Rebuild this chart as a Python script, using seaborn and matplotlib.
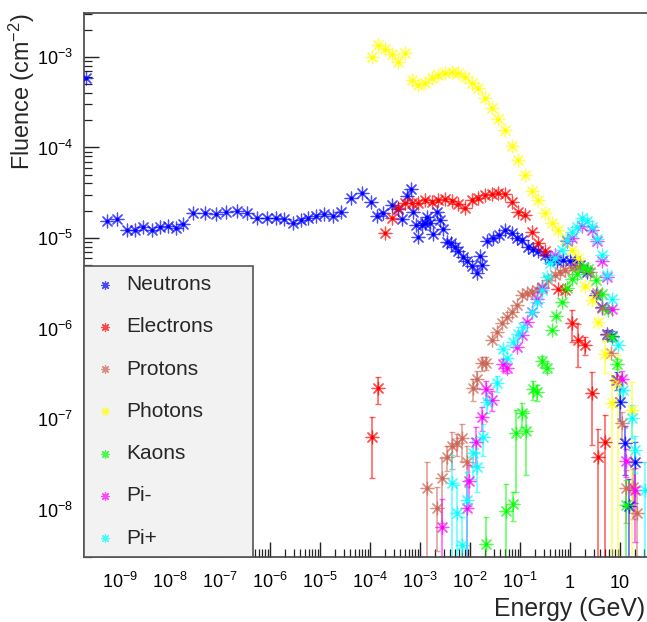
import numpy as np
import pandas as pd
import matplotlib
matplotlib.use("Agg")
import matplotlib.pyplot as plt
import matplotlib.ticker as mticker
import seaborn as sns

# ---------------------------------------------------------------- data
# energy in GeV, fluence in cm^-2, error = statistical uncertainty on fluence

neutron_energy = [
    2.09e-10, 5.57e-10, 8.83e-10, 1.36e-9, 1.97e-9, 2.92e-9, 4.37e-9, 6.31e-9, 9.12e-9, 1.30e-8,
    1.85e-8, 2.92e-8, 5.01e-8, 8.20e-8, 1.34e-7, 2.19e-7, 3.52e-7, 5.50e-7, 8.59e-7, 1.32e-6,
    1.88e-6, 2.84e-6, 4.11e-6, 5.75e-6, 8.43e-6, 1.20e-5, 1.79e-5, 2.59e-5, 4.11e-5, 6.82e-5,
    1.03e-4, 1.36e-4, 1.85e-4, 2.72e-4, 3.68e-4, 4.31e-4, 5.42e-4, 6.61e-4, 7.35e-4, 8.32e-4,
    9.25e-4, 1.08e-3, 1.26e-3, 1.40e-3, 1.58e-3, 1.85e-3, 2.22e-3, 2.51e-3, 2.92e-3, 3.42e-3,
    4.11e-3, 5.01e-3, 5.83e-3, 7.14e-3, 8.59e-3, 1.08e-2, 1.36e-2, 1.58e-2, 1.71e-2, 2.16e-2,
    2.92e-2, 3.85e-2, 5.01e-2, 6.82e-2, 8.59e-2, 0.108, 0.147, 0.185, 0.232, 0.316,
    0.398, 0.542, 0.735, 1.0, 1.26, 1.58, 2.16, 3.31, 4.31, 5.42,
    6.82, 8.59, 10.0, 12.6, 15.3, 20.0,
]
neutron_fluence = [
    5.9e-4, 1.55e-5, 1.61e-5, 1.21e-5, 1.23e-5, 1.31e-5, 1.21e-5, 1.31e-5, 1.36e-5, 1.29e-5,
    1.43e-5, 1.87e-5, 1.87e-5, 1.84e-5, 1.92e-5, 1.97e-5, 1.90e-5, 1.65e-5, 1.65e-5, 1.65e-5,
    1.61e-5, 1.48e-5, 1.58e-5, 1.65e-5, 1.75e-5, 1.83e-5, 1.75e-5, 1.95e-5, 2.75e-5, 3.12e-5,
    2.52e-5, 1.75e-5, 1.90e-5, 2.32e-5, 2.08e-5, 1.61e-5, 2.91e-5, 3.45e-5, 1.95e-5, 1.39e-5,
    1.03e-5, 1.39e-5, 1.45e-5, 1.72e-5, 1.48e-5, 1.11e-5, 1.95e-5, 1.58e-5, 1.25e-5, 9.1e-6,
    8.8e-6, 7.9e-6, 7.1e-6, 6.2e-6, 5.5e-6, 4.9e-6, 4.07e-6, 6.3e-6, 5.0e-6, 9.3e-6,
    1.01e-5, 1.08e-5, 1.23e-5, 1.13e-5, 9.9e-6, 9.5e-6, 8.0e-6, 7.5e-6, 7.1e-6, 6.5e-6,
    5.8e-6, 5.5e-6, 5.7e-6, 5.6e-6, 5.5e-6, 5.0e-6, 4.2e-6, 2.34e-6, 1.74e-6, 8.6e-7,
    8.3e-7, 2.7e-7, 1.55e-7, 5.4e-8, 1.09e-8, 3.37e-8,
]
neutron_error = [
    0, 0, 0, 0, 0, 0, 0, 0, 0, 0,
    0, 0, 0, 0, 0, 0, 0, 0, 0, 0,
    0, 0, 0, 0, 0, 0, 0, 0, 0, 0,
    0, 0, 0, 0, 0, 0, 0, 0, 0, 0,
    0, 0, 0, 0, 0, 0, 0, 0, 0, 0,
    0, 0, 0, 0, 0, 0, 0, 0, 0, 0,
    0, 0, 0, 0, 0, 0, 0, 0, 0, 0,
    0, 0, 0, 0, 0, 0, 0, 0, 0, 1.0e-7,
    1.0e-7, 6e-8, 6e-8, 3e-8, 1.1e-8, 2.2e-8,
]

electron_energy = [
    1.08e-4, 1.47e-4, 2.0e-4, 2.72e-4, 3.68e-4, 5.01e-4, 6.82e-4, 9.25e-4, 1.26e-3, 1.71e-3,
    2.32e-3, 3.16e-3, 4.31e-3, 5.83e-3, 7.94e-3, 1.08e-2, 1.47e-2, 2.0e-2, 2.72e-2, 3.68e-2,
    5.01e-2, 6.82e-2, 9.25e-2, 0.126, 0.171, 0.232, 0.316, 0.583, 0.794, 1.08,
    1.47, 2.0, 2.72, 3.68, 5.01,
]
electron_fluence = [
    6.4e-8, 2.18e-7, 1.13e-5, 1.65e-5, 2.13e-5, 2.42e-5, 2.42e-5, 2.45e-5, 2.63e-5, 2.52e-5,
    2.63e-5, 2.67e-5, 2.58e-5, 2.38e-5, 2.13e-5, 2.63e-5, 2.75e-5, 2.99e-5, 3.07e-5, 3.17e-5,
    3.07e-5, 2.52e-5, 1.95e-5, 1.79e-5, 1.17e-5, 8.9e-6, 7.1e-6, 2.71e-6, 2.68e-6, 1.16e-6,
    7.5e-7, 6.6e-7, 1.92e-7, 3.8e-8, 5.5e-8,
]
electron_error = [
    4.2e-8, 7e-8, 0, 0, 0, 0, 0, 0, 0, 0,
    0, 0, 0, 0, 0, 0, 0, 0, 0, 0,
    0, 0, 0, 0, 0, 0, 0, 0, 0, 4.5e-7,
    3.7e-7, 1.5e-7, 1.4e-7, 3.9e-8, 5.6e-8,
]

proton_energy = [
    1.40e-3, 2.16e-3, 2.72e-3, 3.42e-3, 4.31e-3, 5.57e-3, 6.82e-3, 8.83e-3, 1.13e-2, 1.36e-2,
    1.71e-2, 2.09e-2, 2.72e-2, 3.42e-2, 4.31e-2, 5.42e-2, 6.82e-2, 8.59e-2, 0.108, 0.136,
    0.171, 0.216, 0.272, 0.368, 0.501, 0.631, 0.794, 1.08, 1.47, 1.85,
    2.51, 3.42, 4.31, 5.42, 6.52, 8.32, 10.8, 13.2, 17.9, 21.6,
]
proton_fluence = [
    1.71e-8, 1.05e-8, 2.21e-8, 3.83e-8, 5.03e-8, 5.4e-8, 6.1e-8, 3.37e-8, 2.18e-7, 2.75e-7,
    4.13e-7, 4.19e-7, 7.46e-7, 9.2e-7, 1.14e-6, 1.35e-6, 1.53e-6, 1.82e-6, 2.34e-6, 2.45e-6,
    2.55e-6, 2.66e-6, 2.90e-6, 3.44e-6, 3.90e-6, 4.25e-6, 4.43e-6, 4.62e-6, 4.82e-6, 4.62e-6,
    4.25e-6, 2.45e-6, 1.67e-6, 8.5e-7, 5.3e-7, 2.7e-7, 8.95e-8, 1.71e-8, 1.79e-8, 9.1e-9,
]
proton_error = [
    1.6e-8, 0.7e-8, 1.5e-8, 1.2e-8, 2.2e-8, 1.5e-8, 2.7e-8, 1.6e-8, 6e-8, 6e-8,
    7e-8, 7e-8, 0, 0, 0, 0, 0, 0, 0, 0,
    0, 0, 0, 0, 0, 0, 0, 0, 0, 0,
    0, 0, 0, 0, 0, 0, 3e-8, 1e-8, 1e-8, 6e-9,
]

photon_energy = [
    1.08e-4, 1.47e-4, 2.0e-4, 2.72e-4, 3.68e-4, 5.01e-4, 6.82e-4, 9.25e-4, 1.26e-3, 1.71e-3,
    2.32e-3, 3.16e-3, 4.31e-3, 5.83e-3, 7.94e-3, 1.08e-2, 1.47e-2, 2.0e-2, 2.72e-2, 3.68e-2,
    5.01e-2, 6.82e-2, 9.25e-2, 0.126, 0.171, 0.232, 0.316, 0.43, 0.583, 0.794,
    1.08, 1.47, 2.0, 2.72, 3.68, 5.01, 6.82, 9.25, 17.1,
]
photon_fluence = [
    9.9e-4, 1.36e-3, 1.22e-3, 1.08e-3, 8.9e-4, 1.10e-3, 5.5e-4, 4.9e-4, 5.2e-4, 5.8e-4,
    6.3e-4, 6.7e-4, 6.9e-4, 6.7e-4, 6.05e-4, 5.2e-4, 4.5e-4, 3.5e-4, 2.71e-4, 2.05e-4,
    1.56e-4, 1.04e-4, 7.2e-5, 4.97e-5, 3.33e-5, 2.63e-5, 1.90e-5, 1.48e-5, 1.23e-5, 9.5e-6,
    7.4e-6, 5.97e-6, 2.95e-6, 2.07e-6, 1.19e-6, 5.2e-7, 1.5e-7, 2.5e-7, 1.26e-7,
]
photon_error = [
    0, 0, 0, 0, 0, 0, 0, 0, 0, 0,
    0, 0, 0, 0, 0, 0, 0, 0, 0, 0,
    0, 0, 0, 0, 0, 0, 0, 0, 0, 0,
    0, 0, 0, 0, 0, 2e-7, 1.6e-7, 2.6e-7, 1.3e-7,
]

kaon_energy = [
    2.09e-2, 5.25e-2, 7.14e-2, 8.32e-2, 0.108, 0.132, 0.179, 0.216, 0.272, 0.342,
    0.431, 0.525, 0.682, 0.859, 1.08, 1.36, 1.85, 2.32, 3.31, 4.31,
    5.83, 6.82, 8.59, 13.2,
]
kaon_fluence = [
    4.16e-9, 9.7e-9, 1.15e-8, 7.06e-8, 1.17e-7, 7.4e-8, 2.13e-7, 2.0e-7, 4.4e-7, 3.7e-7,
    9.6e-7, 1.37e-6, 1.98e-6, 2.78e-6, 3.5e-6, 4.0e-6, 4.8e-6, 4.6e-6, 3.4e-6, 2.39e-6,
    1.6e-6, 8.1e-7, 4.1e-7, 1.12e-8,
]
kaon_error = [
    4e-9, 9.4e-9, 4e-9, 5.5e-8, 3.5e-8, 5e-8, 5e-8, 4e-8, 6e-8, 5e-8,
    0, 0, 0, 0, 0, 0, 0, 0, 0, 0,
    0, 0, 5e-8, 1e-8,
]

pim_energy = [
    2.72e-3, 8.59e-3, 9.68e-3, 1.32e-2, 1.71e-2, 2.06e-2, 2.72e-2, 4.51e-2, 5.42e-2, 8.59e-2,
    0.108, 0.136, 0.171, 0.216, 0.272, 0.501, 0.859, 1.08, 1.71, 2.72,
    3.42, 4.31, 5.42, 6.82, 10.8, 13.2, 20.0,
]
pim_fluence = [
    6.45e-9, 1.03e-8, 2.08e-8, 5.6e-8, 1.04e-7, 2.13e-7, 1.62e-7, 4.0e-7, 3.7e-7, 6.3e-7,
    8.4e-7, 1.19e-6, 1.53e-6, 2.1e-6, 2.78e-6, 6.5e-6, 9.3e-6, 9.9e-6, 1.35e-5, 1.22e-5,
    9.3e-6, 5.5e-6, 3.66e-6, 1.63e-6, 2.8e-7, 3.46e-8, 1.64e-8,
]
pim_error = [
    6.6e-9, 1.1e-8, 1e-8, 2.6e-8, 3e-8, 5e-8, 4e-8, 6e-8, 5e-8, 0,
    0, 0, 0, 0, 0, 0, 0, 0, 0, 0,
    0, 0, 0, 0, 6e-8, 1.2e-8, 1.2e-8,
]

pip_energy = [
    4.31e-3, 5.42e-3, 6.82e-3, 8.59e-3, 1.13e-2, 1.36e-2, 1.79e-2, 2.16e-2, 3.42e-2, 4.51e-2,
    5.42e-2, 7.14e-2, 9.25e-2, 0.113, 0.171, 0.216, 0.272, 0.342, 0.398, 0.501,
    0.682, 0.859, 1.08, 1.36, 1.71, 2.16, 2.72, 3.42, 4.31, 5.42,
    6.82, 9.25, 11.6, 17.1, 20.0, 31.6,
]
pip_fluence = [
    1.95e-8, 9.1e-9, 4.06e-9, 1.27e-8, 4.18e-8, 2.97e-8, 6.4e-8, 1.55e-7, 2.48e-7, 6.0e-7,
    4.7e-7, 7.15e-7, 8.7e-7, 1.05e-6, 1.53e-6, 1.98e-6, 2.66e-6, 3.73e-6, 5.25e-6, 6.0e-6,
    7.36e-6, 9.5e-6, 1.15e-5, 1.33e-5, 1.65e-5, 1.55e-5, 1.33e-5, 9.7e-6, 6.5e-6, 3.9e-6,
    2.1e-6, 6.6e-7, 2.09e-7, 1.02e-7, 4.5e-8, 1.64e-8,
]
pip_error = [
    2e-8, 9.5e-9, 4.3e-9, 1.3e-8, 2e-8, 1.4e-8, 2.5e-8, 4e-8, 5e-8, 0,
    0, 0, 0, 0, 0, 0, 0, 0, 0, 0,
    0, 0, 0, 0, 0, 0, 0, 0, 0, 0,
    0, 0, 5e-8, 4e-8, 2e-8, 1.7e-8,
]

particle_names = ["Neutrons", "Electrons", "Protons", "Photons", "Kaons", "Pi-", "Pi+"]
particle_colors = ["#0000ff", "#ff0000", "#cc6655", "#ffff00", "#00ff00", "#ff00ff", "#00ffff"]

x_tick_exponents = [-9, -8, -7, -6, -5, -4, -3, -2, -1, 0, 1]
y_tick_exponents = [-8, -7, -6, -5, -4, -3]

# ---------------------------------------------------------------- style
sns.set_style("ticks")
plt.rcParams["font.family"] = ["Liberation Sans", "DejaVu Sans"]
plt.rcParams["mathtext.fontset"] = "custom"
plt.rcParams["mathtext.rm"] = "Liberation Sans"
plt.rcParams["mathtext.it"] = "Liberation Sans:italic"
plt.rcParams["mathtext.bf"] = "Liberation Sans:bold"

fig = plt.figure(figsize=(6.47, 6.22), dpi=100)
ax = fig.add_axes([84 / 647, 65 / 622, 563 / 647, 544 / 622])

series = [
    (neutron_energy, neutron_fluence, neutron_error),
    (electron_energy, electron_fluence, electron_error),
    (proton_energy, proton_fluence, proton_error),
    (photon_energy, photon_fluence, photon_error),
    (kaon_energy, kaon_fluence, kaon_error),
    (pim_energy, pim_fluence, pim_error),
    (pip_energy, pip_fluence, pip_error),
]

star = (8, 2, 0)  # eight-spoke asterisk
for name, color, (e, f, err) in zip(particle_names, particle_colors, series):
    df = pd.DataFrame({"energy": e, "fluence": f, "error": err})
    bars = df[df["error"] > 0]
    ax.errorbar(bars["energy"], bars["fluence"], yerr=bars["error"], fmt="none",
                ecolor=color, elinewidth=1.2, capsize=2.0, capthick=1.0,
                alpha=0.6, zorder=2)
    sns.scatterplot(data=df, x="energy", y="fluence", marker=star, s=85,
                    color=color, linewidth=0.9, alpha=0.7, ax=ax,
                    label=name, zorder=3)
    sns.scatterplot(data=df, x="energy", y="fluence", marker="o", s=7,
                    color=color, linewidth=0, ax=ax, legend=False, zorder=3)

ax.set_xscale("log")
ax.set_yscale("log")
ax.set_xlim(10 ** -9.72, 10 ** 1.54)
ax.set_ylim(10 ** -8.525, 10 ** -2.514)

ax.xaxis.set_major_locator(mticker.FixedLocator([10.0 ** k for k in x_tick_exponents]))
ax.xaxis.set_minor_locator(mticker.LogLocator(base=10, subs=np.arange(2, 10), numticks=30))
ax.yaxis.set_major_locator(mticker.FixedLocator([10.0 ** k for k in y_tick_exponents]))
ax.yaxis.set_minor_locator(mticker.LogLocator(base=10, subs=np.arange(2, 10), numticks=30))
ax.xaxis.set_minor_formatter(mticker.NullFormatter())
ax.yaxis.set_minor_formatter(mticker.NullFormatter())


def decade_label(value, pos):
    exp = int(round(np.log10(value)))
    if exp == 0:
        return "1"
    if exp == 1:
        return "10"
    return r"$\mathregular{10^{%d}}$" % exp


ax.xaxis.set_major_formatter(mticker.FuncFormatter(decade_label))
ax.yaxis.set_major_formatter(mticker.FuncFormatter(decade_label))

ax.tick_params(which="both", direction="in", top=False, right=False,
               color="#222222", labelcolor="black")
ax.tick_params(which="major", length=11, width=1.0, labelsize=13)
ax.tick_params(axis="x", which="major", pad=22)
ax.tick_params(axis="y", which="major", pad=8)
ax.tick_params(which="minor", length=5.5, width=0.9)

for side in ["left", "bottom", "top"]:
    ax.spines[side].set_color("#444444")
    ax.spines[side].set_linewidth(1.2)
ax.spines["right"].set_visible(False)

ax.set_ylabel(r"Fluence (cm$^{\mathregular{-2}}$)", fontsize=16.8, loc="top")
ax.yaxis.set_label_coords(-47 / 563, 1.0)
ax.set_xlabel("Energy (GeV)", fontsize=17.8, loc="right")
ax.xaxis.set_label_coords(561 / 563, -40 / 544)

leg = ax.legend(loc="lower left", bbox_to_anchor=(0, 0, 169 / 563, 1), mode="expand",
                borderaxespad=0, frameon=True, fancybox=False, facecolor="#f2f2f2",
                edgecolor="#555555", framealpha=1, fontsize=15, labelspacing=1.117,
                borderpad=0.45, handlelength=1.11, handletextpad=0.45, markerscale=0.6)
leg.get_frame().set_linewidth(1.2)
leg.set_zorder(5)

fig.canvas.draw()
plt.setp(ax.get_xticklabels(), va="baseline")

fig.savefig("out.png", dpi=100)
